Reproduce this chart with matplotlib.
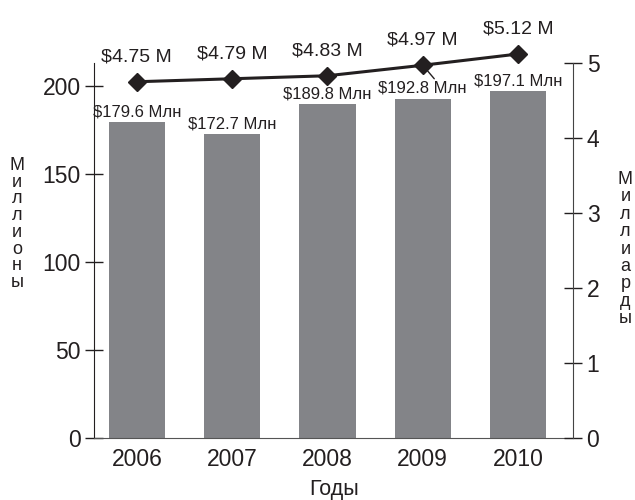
import matplotlib
matplotlib.use("Agg")
import matplotlib.pyplot as plt

plt.rcParams['font.family'] = ['Liberation Sans', 'DejaVu Sans']

years = ['2006', '2007', '2008', '2009', '2010']
revenue_mln = [179.6, 172.7, 189.8, 192.8, 197.1]
users_bln = [4.75, 4.79, 4.83, 4.97, 5.12]
bar_labels = ['$179.6 Млн', '$172.7 Млн', '$189.8 Млн', '$192.8 Млн', '$197.1 Млн']
line_labels = ['$4.75 M', '$4.79 M', '$4.83 M', '$4.97 M', '$5.12 M']
left_ticks = [0, 50, 100, 150, 200]
right_ticks = [0, 1, 2, 3, 4, 5]

ink = '#231f20'
bar_color = '#838488'

fig = plt.figure(figsize=(6.35, 5.0), dpi=100)
ax = fig.add_axes([0.148, 0.124, 0.755, 0.750])
x = list(range(len(years)))

ax.bar(x, revenue_mln, width=0.59, color=bar_color, zorder=2)
ax.set_xlim(-0.45, 4.58)
ax.set_ylim(0, 213)
ax.set_yticks(left_ticks)
ax.set_xticks(x)
ax.set_xticklabels(years)
ax.tick_params(axis='x', length=0, labelsize=16.5, colors=ink, pad=7)
ax.tick_params(axis='y', direction='inout', length=13, width=1.0,
               labelsize=16.5, colors=ink, pad=3)
for s in ('top', 'right'):
    ax.spines[s].set_visible(False)
ax.spines['left'].set_color(ink)
ax.spines['bottom'].set_color('#555555')
ax.set_xlabel('Годы', fontsize=15.5, color=ink, labelpad=6)

for xi, v, lab in zip(x, revenue_mln, bar_labels):
    if xi == 3:
        continue
    ax.annotate(lab, (xi, v), xytext=(0, 2), textcoords='offset points',
                ha='center', va='bottom', fontsize=12, color=ink)

ax2 = ax.twinx()
ax2.set_ylim(0, 5)
ax2.set_yticks(right_ticks)
ax2.tick_params(axis='y', direction='inout', length=13, width=1.0,
                labelsize=16.5, colors=ink, pad=3)
for s in ('top', 'left', 'bottom'):
    ax2.spines[s].set_visible(False)
ax2.spines['right'].set_color('#444444')

ax2.plot(x, users_bln, color=ink, lw=2.2, marker='D', markersize=9,
         clip_on=False, zorder=5)
for xi, v, lab in zip(x, users_bln, line_labels):
    ax2.annotate(lab, (xi, v), xytext=(0, 12), textcoords='offset points',
                 ha='center', va='bottom', fontsize=14, color=ink,
                 annotation_clip=False)

# 2009 bar label sits just under the line, tied to its point by a leader
ax.annotate(bar_labels[3], xy=(3, revenue_mln[3]), xytext=(0, 2),
            textcoords='offset points', ha='center', va='bottom',
            fontsize=12, color=ink)
ax2.annotate('', xy=(3, users_bln[3]), xytext=(3.12, users_bln[3] - 0.18),
             arrowprops=dict(arrowstyle='-', color=ink, lw=1.0,
                             shrinkA=0, shrinkB=3),
             annotation_clip=False)

fig.text(0.027, 0.552, '\n'.join('Миллионы'), ha='center', va='center',
         fontsize=13, color=ink, linespacing=0.98)
fig.text(0.985, 0.502, '\n'.join('Миллиарды'), ha='center', va='center',
         fontsize=13, color=ink, linespacing=1.03)

fig.savefig('out.png', dpi=100)
